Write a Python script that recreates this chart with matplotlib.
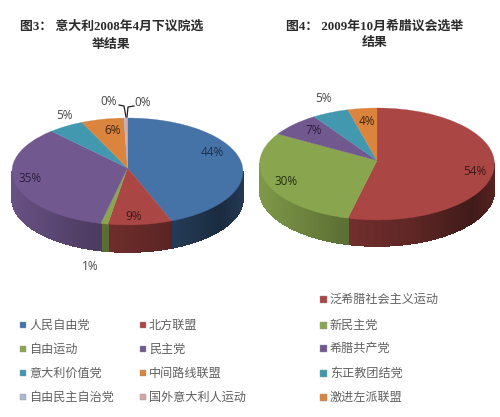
import numpy as np
import matplotlib
matplotlib.use("Agg")
import matplotlib.pyplot as plt
from matplotlib.patches import Rectangle, PathPatch
from matplotlib.path import Path

W, H = 500, 417
CJK = ['Noto Sans CJK SC', 'DejaVu Sans']
TITLE_FONT = ['Liberation Serif', 'Noto Sans CJK SC']
plt.rcParams['font.family'] = CJK

# data
parties_italy = ['人民自由党', '北方联盟', '自由运动', '民主党', '意大利价值党',
                 '中间路线联盟', '自由民主自治党', '国外意大利人运动']
values_italy = [44, 9, 1, 35, 5, 6, 0.25, 0.25]
labels_italy = ['44%', '9%', '1%', '35%', '5%', '6%', '0%', '0%']
colors_italy = ['#4572A7', '#AA4643', '#89A54E', '#71588F', '#4198AF', '#DB843D', '#A9B8D3', '#D5A5A4']

parties_greece = ['泛希腊社会主义运动', '新民主党', '希腊共产党', '东正教团结党', '激进左派联盟']
values_greece = [54, 30, 7, 5, 4]
labels_greece = ['54%', '30%', '7%', '5%', '4%']
colors_greece = ['#AA4643', '#89A54E', '#71588F', '#4198AF', '#DB843D']

fig = plt.figure(figsize=(W / 100, H / 100), dpi=100, facecolor='white')


def pie3d(cx, cy, rx, ry, depth, apex_up, values, colors):
    m = 1.15
    d = depth / ry
    left, right = cx - rx * m, cx + rx * m
    top, bottom = cy - ry * m, cy + ry * m + depth
    ax = fig.add_axes([left / W, 1 - bottom / H, (right - left) / W, (bottom - top) / H])
    fr = np.array(values, float) / sum(values)
    edges = np.concatenate([[0], np.cumsum(fr)]) * 2 * np.pi
    # side wall: clockwise angle from the top of the pie
    for a0, a1, c in zip(edges[:-1], edges[1:], colors):
        lo, hi = max(a0, np.pi / 2), min(a1, 1.5 * np.pi)
        if hi <= lo:
            continue
        steps = np.linspace(lo, hi, max(2, int((hi - lo) * 60)))
        rgb = np.array(matplotlib.colors.to_rgb(c))
        for s0, s1 in zip(steps[:-1], steps[1:]):
            x0, x1 = np.sin(s0), np.sin(s1)
            y0, y1 = np.cos(s0), np.cos(s1)
            f = np.interp((x0 + x1) / 2, [-1, -.3, .3, .8, 1], [.92, .68, .55, .38, .5])
            col = tuple(rgb * f)
            ax.fill([x0, x1, x1, x0], [y0, y1, y1 - d, y0 - d],
                    facecolor=col, edgecolor=col, lw=0.5, antialiased=False)
    wedges, _ = ax.pie(values, colors=colors, startangle=90, counterclock=False,
                       radius=1, center=(0, 0), wedgeprops={'linewidth': 0})
    # the apex sits above the ellipse centre, as in a perspective view
    for w in wedges:
        p = w.get_patch_transform().transform_path(w.get_path())
        v = p.vertices.copy()
        v[np.hypot(v[:, 0], v[:, 1]) < 1e-6, 1] += apex_up / ry
        face = w.get_facecolor()
        w.remove()
        ax.add_patch(PathPatch(Path(v, p.codes), facecolor=face, edgecolor=face, lw=0.2))
    ax.set_aspect('auto')
    ax.set_xlim(-m, m)
    ax.set_ylim(-m - d, m)
    ax.axis('off')
    return ax


pie3d(127.5, 171.5, 115.5, 53.5, 27, 3.5, values_italy, colors_italy)
pie3d(377, 164, 117.5, 56, 26, 3.5, values_greece, colors_greece)

# pixel-coordinate overlay for text, leaders and legends
ov = fig.add_axes([0, 0, 1, 1], zorder=5)
ov.set_xlim(0, W)
ov.set_ylim(H, 0)
ov.axis('off')
ov.patch.set_alpha(0)

TC = '#2b2b2b'
for s, x, y in [('图3： 意大利2008年4月下议院选', 112, 27), ('举结果', 111, 45),
                ('图4： 2009年10月希腊议会选举', 375, 26), ('结果', 375, 43)]:
    ov.text(x, y, s, ha='center', va='center', fontsize=9.3, fontweight='bold',
            family=TITLE_FONT, color=TC)

label_pos_italy = [(212, 153), (134, 216), (90, 266), (30, 178), (64, 115), (113, 131), (109, 101), (143, 102)]
label_col_italy = ['#1f2f4a', '#3a1a1a', '#444444', '#2a1d40', '#444444', '#3a2410', '#444444', '#444444']
for s, (x, y), c in zip(labels_italy, label_pos_italy, label_col_italy):
    ov.text(x, y, s, ha='center', va='center', fontsize=8.5, family='Open Sans', color=c)

label_pos_greece = [(475, 171), (286, 181), (314, 131), (323, 98), (367, 121)]
label_col_greece = ['#3a1a1a', '#24300f', '#2a1d40', '#444444', '#3a2410']
for s, (x, y), c in zip(labels_greece, label_pos_greece, label_col_greece):
    ov.text(x, y, s, ha='center', va='center', fontsize=8.5, family='Open Sans', color=c)

ov.plot([119, 124, 126], [105, 106, 117], color='#222222', lw=0.9)
ov.plot([134, 128, 127], [106, 107, 117], color='#222222', lw=0.9)


def legend_item(x, y, s, color, size=6):
    ov.add_patch(Rectangle((x, y - size / 2), size, size, facecolor=color,
                           edgecolor='#999999', lw=0.3))
    ov.text(x + size + 3, y, s, ha='left', va='center', fontsize=8.7, color='#606060')


rows = [325, 349, 373, 397]
for i, (s, c) in enumerate(zip(parties_italy, colors_italy)):
    x = 20 if i % 2 == 0 else 140
    legend_item(x, rows[i // 2], s, c)

rows_g = [299, 325, 348, 373, 397]
for y, s, c in zip(rows_g, parties_greece, colors_greece):
    legend_item(320, y, s, c, size=7)

fig.savefig('out.png', dpi=100)
